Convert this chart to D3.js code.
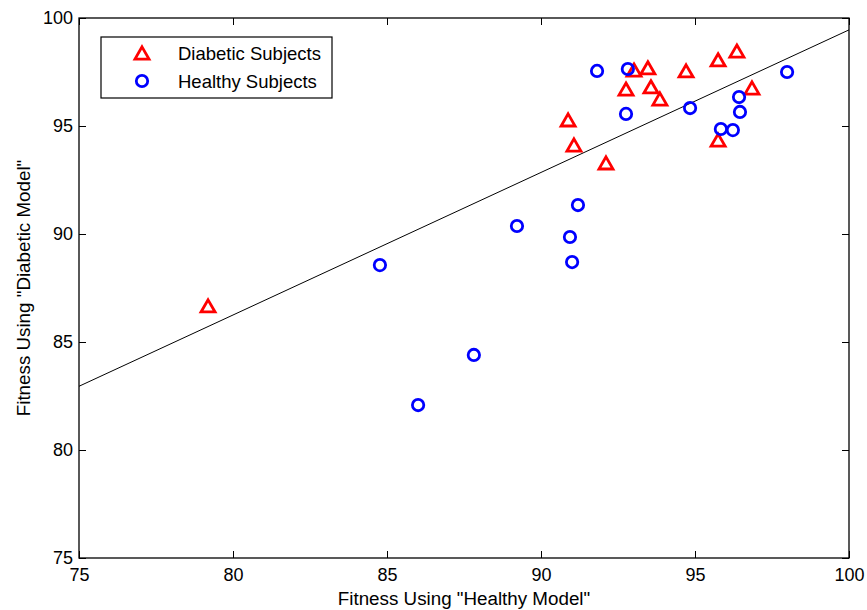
<!DOCTYPE html>
<html>
<head>
<meta charset="utf-8">
<script src="https://cdn.jsdelivr.net/npm/d3@7"></script>
<style>
  body { margin: 0; background: #fff; }
  text { font-family: "Liberation Sans", Arial, sans-serif; }
</style>
</head>
<body>
<div id="chart"></div>
<script>
// data
const diabeticX = [79.19, 90.88, 91.07, 92.11, 92.76, 93.02, 93.47, 93.57, 93.86, 94.71, 95.75, 96.36, 95.75, 96.85];
const diabeticY = [86.67, 95.28, 94.12, 93.29, 96.71, 97.59, 97.69, 96.81, 96.25, 97.55, 98.06, 98.47, 94.35, 96.76];
const healthyX = [86.01, 87.82, 84.77, 89.22, 90.94, 91.01, 91.20, 91.82, 92.82, 92.76, 94.84, 95.84, 96.23, 96.46, 96.43, 97.99];
const healthyY = [82.08, 84.40, 88.56, 90.37, 89.86, 88.70, 91.34, 97.55, 97.64, 95.56, 95.83, 94.86, 94.81, 95.65, 96.34, 97.50];
const fitX = [75, 100];
const fitY = [82.95, 99.45];
const xTicks = [75, 80, 85, 90, 95, 100];
const yTicks = [75, 80, 85, 90, 95, 100];

const W = 867, H = 610;
const m = { top: 18, right: 18, bottom: 52, left: 79 };
const width = W - m.left - m.right, height = H - m.top - m.bottom;

const svg = d3.select('#chart').append('svg').attr('width', W).attr('height', H)
  .append('g').attr('transform', `translate(${m.left},${m.top})`);

const x = d3.scaleLinear().domain([75, 100]).range([0, width]);
const y = d3.scaleLinear().domain([75, 100]).range([height, 0]);

// axes with inward ticks on all four sides
const styleAxis = g => {
  g.select('.domain').remove();
  g.selectAll('.tick line').attr('stroke', '#000');
  g.selectAll('.tick text').attr('fill', '#000').style('font-size', '18px');
};
svg.append('g').attr('transform', `translate(0,${height})`)
  .call(d3.axisBottom(x).tickValues(xTicks).tickSize(-7).tickPadding(10)).call(styleAxis);
svg.append('g')
  .call(d3.axisLeft(y).tickValues(yTicks).tickSize(-7).tickPadding(6)).call(styleAxis);
svg.append('g')
  .call(d3.axisTop(x).tickValues(xTicks).tickSize(-7).tickFormat('')).call(styleAxis);
svg.append('g').attr('transform', `translate(${width},0)`)
  .call(d3.axisRight(y).tickValues(yTicks).tickSize(-7).tickFormat('')).call(styleAxis);

svg.append('rect').attr('width', width).attr('height', height)
  .attr('fill', 'none').attr('stroke', '#000').attr('stroke-width', 1.3);

// fit line
svg.append('line')
  .attr('x1', x(fitX[0])).attr('y1', y(fitY[0]))
  .attr('x2', x(fitX[1])).attr('y2', y(fitY[1]))
  .attr('stroke', '#000').attr('stroke-width', 1);

const tri = d3.symbol().type(d3.symbolTriangle).size(85);

svg.selectAll('.dia').data(diabeticX).enter().append('path')
  .attr('d', tri)
  .attr('transform', (d, i) => `translate(${x(d)},${y(diabeticY[i]) + 2})`)
  .attr('fill', 'none').attr('stroke', '#ff0000').attr('stroke-width', 2.8);

svg.selectAll('.hea').data(healthyX).enter().append('circle')
  .attr('cx', d => x(d)).attr('cy', (d, i) => y(healthyY[i])).attr('r', 5.7)
  .attr('fill', 'none').attr('stroke', '#0000ff').attr('stroke-width', 2.8);

// legend
const lg = svg.append('g').attr('transform', `translate(${101 - m.left},${37 - m.top})`);
lg.append('rect').attr('width', 231).attr('height', 61)
  .attr('fill', '#fff').attr('stroke', '#000').attr('stroke-width', 1.2);
lg.append('path').attr('d', tri).attr('transform', 'translate(41,18)')
  .attr('fill', 'none').attr('stroke', '#ff0000').attr('stroke-width', 2.8);
lg.append('circle').attr('cx', 41).attr('cy', 44).attr('r', 5.7)
  .attr('fill', 'none').attr('stroke', '#0000ff').attr('stroke-width', 2.8);
lg.append('text').attr('x', 77).attr('y', 23).style('font-size', '18.5px').text('Diabetic Subjects');
lg.append('text').attr('x', 77).attr('y', 50.5).style('font-size', '18.5px').text('Healthy Subjects');

// axis labels
svg.append('text').attr('x', width / 2).attr('y', height + 47).attr('text-anchor', 'middle')
  .style('font-size', '18.8px').text('Fitness Using "Healthy Model"');
svg.append('text').attr('transform', 'rotate(-90)').attr('x', -height / 2).attr('y', -49)
  .attr('text-anchor', 'middle').style('font-size', '18.8px').text('Fitness Using "Diabetic Model"');
</script>
</body>
</html>
